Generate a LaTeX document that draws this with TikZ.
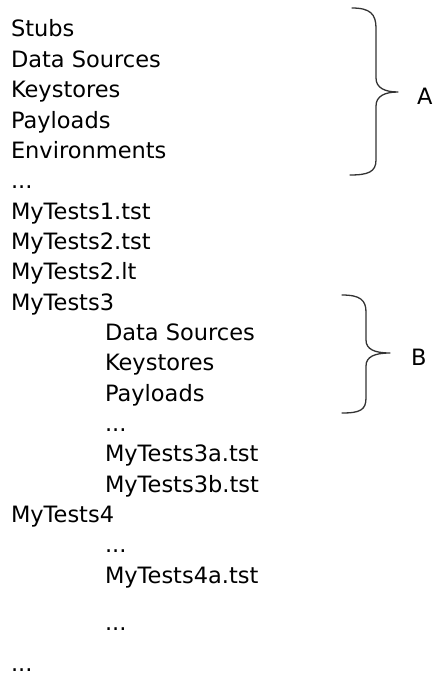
\documentclass[tikz,border=0pt]{standalone}
\usepackage{fontspec}
\setmainfont{DejaVu Sans}
\usetikzlibrary{positioning}

\begin{document}
\begin{tikzpicture}[x=1pt,y=-1pt,font=\fontsize{22.5}{27}\selectfont,line width=1.3pt]

	\tikzset{entry/.style={inner sep=0pt, outer sep=0pt, text=black}}
	\tikzset{brace line/.style={draw=black!80, line cap=round, line join=round}}

	\useasboundingbox (0,0) rectangle (436,679);

	% top level
	\node[entry, anchor=base west] (stubs) at (11,37) {Stubs};
	\node[entry, below=30.35pt of stubs.base west, anchor=base west] (dsA) {Data Sources};
	\node[entry, below=30.35pt of dsA.base west, anchor=base west] (ksA) {Keystores};
	\node[entry, below=30.35pt of ksA.base west, anchor=base west] (plA) {Payloads};
	\node[entry, below=30.35pt of plA.base west, anchor=base west] (envA) {Environments};
	\node[entry, below=30.35pt of envA.base west, anchor=base west] (dotsA) {...};
	\node[entry, below=30.35pt of dotsA.base west, anchor=base west] (tOne) {MyTests1.tst};
	\node[entry, below=30.35pt of tOne.base west, anchor=base west] (tTwo) {MyTests2.tst};
	\node[entry, below=30.35pt of tTwo.base west, anchor=base west] (tTwoLt) {MyTests2.lt};
	\node[entry, below=30.35pt of tTwoLt.base west, anchor=base west] (tThree) {MyTests3};

	% MyTests3 folder
	\node[entry, below right=30.35pt and 94pt of tThree.base west, anchor=base west] (dsB) {Data Sources};
	\node[entry, below=30.35pt of dsB.base west, anchor=base west] (ksB) {Keystores};
	\node[entry, below=30.35pt of ksB.base west, anchor=base west] (plB) {Payloads};
	\node[entry, below=30.35pt of plB.base west, anchor=base west] (dotsB) {...};
	\node[entry, below=30.35pt of dotsB.base west, anchor=base west] (tThreeA) {MyTests3a.tst};
	\node[entry, below=30.35pt of tThreeA.base west, anchor=base west] (tThreeB) {MyTests3b.tst};

	% MyTests4 folder
	\node[entry, below left=30.35pt and 94pt of tThreeB.base west, anchor=base west] (tFour) {MyTests4};
	\node[entry, below right=30.35pt and 94pt of tFour.base west, anchor=base west] (dotsC) {...};
	\node[entry, below=30.35pt of dotsC.base west, anchor=base west] (tFourA) {MyTests4a.tst};
	\node[entry, below=47pt of tFourA.base west, anchor=base west] (dotsD) {...};
	\node[entry, below left=41pt and 94pt of dotsD.base west, anchor=base west] (dotsE) {...};

	% braces
	\coordinate (tipA) at (398,92);
	\coordinate (tipB) at (390,353);

	\draw[brace line] (352,8) .. controls (370,8) and (376,14) .. (376,28) -- (376,78)
		.. controls (376,88) and (385,92) .. (tipA)
		.. controls (385,92) and (376,96) .. (376,106) -- (376,160)
		.. controls (376,172) and (368,175) .. (350,175);
	\draw[brace line] (342,295) .. controls (360,295) and (366,300) .. (366,312) -- (366,340)
		.. controls (366,349) and (374,353) .. (tipB)
		.. controls (374,353) and (366,357) .. (366,366) -- (366,398)
		.. controls (366,410) and (360,413) .. (342,413);

	\node[entry, right=19pt of tipA, anchor=west, yshift=-4pt] (labA) {A};
	\node[entry, right=21pt of tipB, anchor=west, yshift=-4pt] (labB) {B};
\end{tikzpicture}
\end{document}
